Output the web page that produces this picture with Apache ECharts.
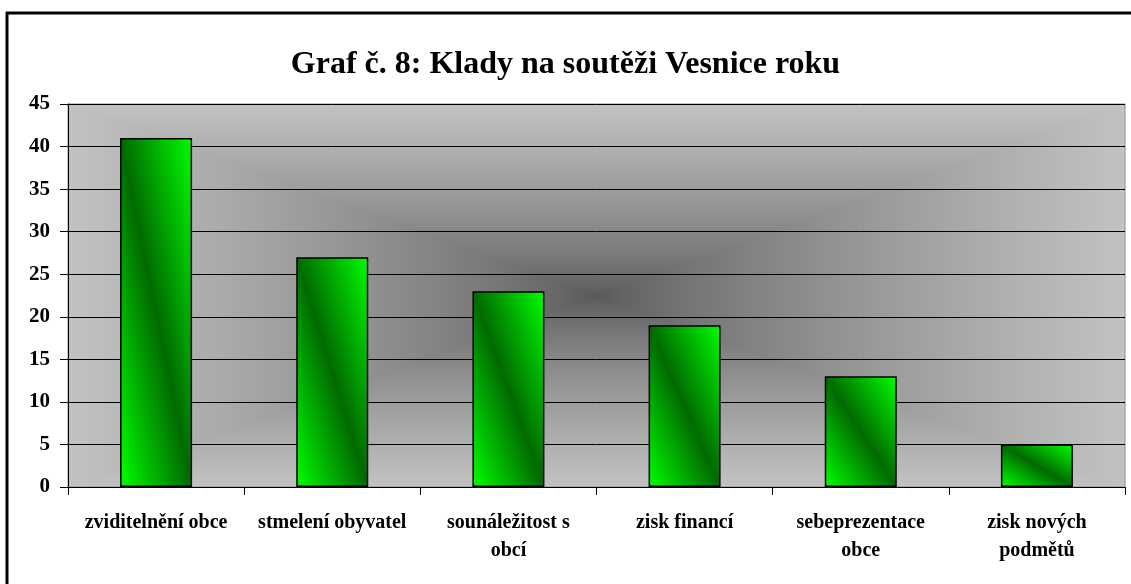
<!DOCTYPE html>
<html>
<head>
<meta charset="utf-8">
<script src="https://cdn.jsdelivr.net/npm/echarts@6/dist/echarts.min.js"></script>
<style>
  html, body { margin: 0; padding: 0; background: #fff; }
  #main { width: 1131px; height: 584px; }
</style>
</head>
<body>
<div id="main"></div>
<script>
var myChart = echarts.init(document.getElementById('main'));

// Data
const categories = ['zviditelnění obce', 'stmelení obyvatel', 'sounáležitost s\nobcí', 'zisk financí', 'sebeprezentace\nobce', 'zisk nových\npodmětů'];
const values = [41, 27, 23, 19, 13, 5];
const yTicks = { min: 0, max: 45, interval: 5 };

// plot area in pixels
const plot = { left: 68, top: 104, right: 1125, bottom: 487 };
const pw = plot.right - plot.left;
const ph = plot.bottom - plot.top;
const barWidth = 72;

// "from center" rectangular gradient like the Excel plot area fill
function makeBackground(w, h) {
    const c = document.createElement('canvas');
    c.width = w; c.height = h;
    const ctx = c.getContext('2d');
    const img = ctx.createImageData(w, h);
    const cx = w / 2, cy = h / 2;
    const inner = 88, outer = 194;
    for (let y = 0; y < h; y++) {
        for (let x = 0; x < w; x++) {
            const t = Math.max(Math.abs(x - cx) / cx, Math.abs(y - cy) / cy);
            const v = Math.round(inner + (outer - inner) * Math.pow(t, 0.75));
            const i = (y * w + x) * 4;
            img.data[i] = v; img.data[i + 1] = v; img.data[i + 2] = v; img.data[i + 3] = 255;
        }
    }
    ctx.putImageData(img, 0, 0);
    return c.toDataURL();
}

// diagonal bar fill: dark band runs corner to corner (top-left -> bottom-right)
function barFill(v) {
    const w = barWidth;
    const h = Math.max(1, v * ph / (yTicks.max - yTicks.min));
    const L2 = w * w + h * h;
    const ax = h * h / L2, ay = w * w / L2;
    return new echarts.graphic.LinearGradient(0.5 - ax, 0.5 + ay, 0.5 + ax, 0.5 - ay, [
        { offset: 0, color: '#00ff00' },
        { offset: 0.5, color: '#006a00' },
        { offset: 1, color: '#00ff00' }
    ]);
}

const serif = '"Liberation Serif", "Times New Roman", serif';

var option = {
    backgroundColor: '#fff',
    animation: false,
    title: {
        text: 'Graf č. 8: Klady na soutěži Vesnice roku',
        left: 'center',
        top: 44,
        textStyle: {
            fontFamily: serif,
            fontSize: 32,
            fontWeight: 'bold',
            color: '#000'
        }
    },
    graphic: [
        {
            type: 'image',
            left: plot.left,
            top: plot.top,
            z: -10,
            silent: true,
            style: { image: makeBackground(pw, ph), width: pw, height: ph }
        },
        // outer frame (top and left edges visible)
        {
            type: 'line',
            silent: true,
            shape: { x1: 6, y1: 13, x2: 1131, y2: 13 },
            style: { stroke: '#000', lineWidth: 3 }
        },
        {
            type: 'line',
            silent: true,
            shape: { x1: 7, y1: 12, x2: 7, y2: 584 },
            style: { stroke: '#000', lineWidth: 3 }
        }
    ],
    grid: {
        left: plot.left,
        top: plot.top,
        right: 1131 - plot.right,
        bottom: 584 - plot.bottom,
        show: true,
        backgroundColor: 'transparent',
        borderColor: '#8c8c8c',
        borderWidth: 1
    },
    xAxis: {
        type: 'category',
        data: categories,
        axisLine: { lineStyle: { color: '#000', width: 1 } },
        axisTick: { show: true, length: 8, lineStyle: { color: '#000' } },
        axisLabel: {
            interval: 0,
            margin: 22,
            fontFamily: serif,
            fontSize: 20,
            fontWeight: 'bold',
            color: '#000',
            lineHeight: 28
        }
    },
    yAxis: {
        type: 'value',
        min: yTicks.min,
        max: yTicks.max,
        interval: yTicks.interval,
        axisLine: { show: true, lineStyle: { color: '#000', width: 1 } },
        axisTick: { show: true, length: 8, lineStyle: { color: '#000' } },
        axisLabel: {
            margin: 18,
            fontFamily: serif,
            fontSize: 21,
            fontWeight: 'bold',
            color: '#000'
        },
        splitLine: { show: true, lineStyle: { color: '#000', width: 1 } }
    },
    series: [
        {
            type: 'bar',
            data: values.map(v => ({ value: v, itemStyle: { color: barFill(v) } })),
            barWidth: barWidth,
            itemStyle: {
                borderColor: '#000',
                borderWidth: 1.5
            }
        }
    ]
};

myChart.setOption(option);
</script>
</body>
</html>
